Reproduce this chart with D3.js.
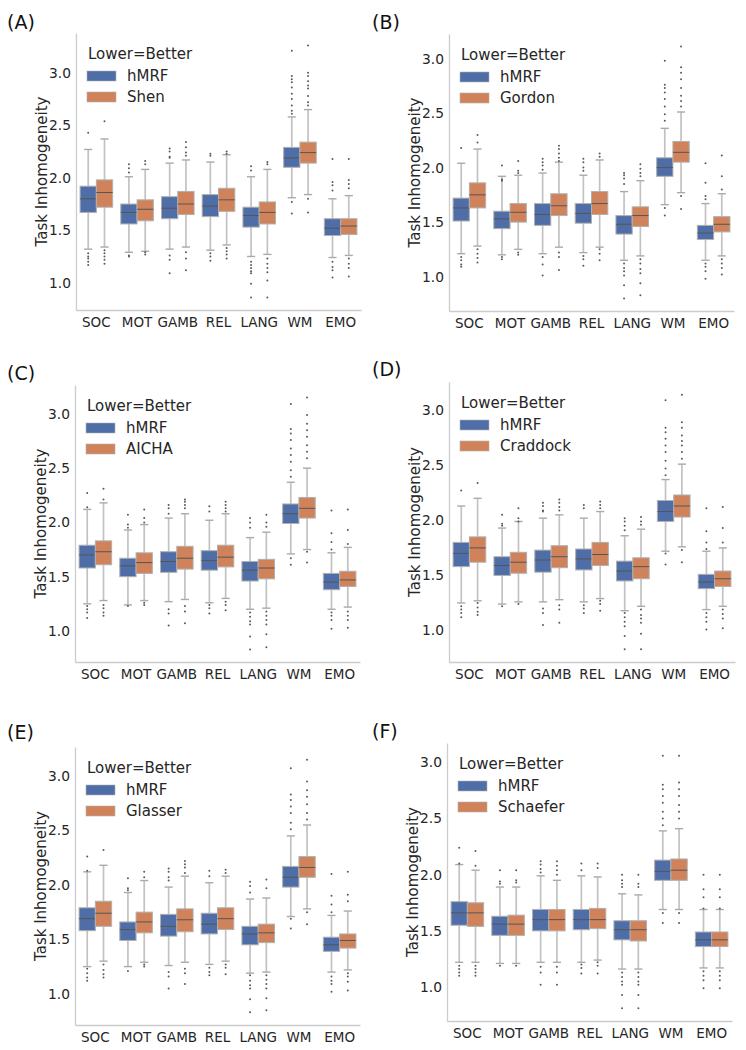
<!DOCTYPE html>
<html>
<head>
<meta charset="utf-8">
<script src="https://cdn.jsdelivr.net/npm/d3@7"></script>
<style>
  html, body { margin: 0; padding: 0; background: #fff; }
  svg { display: block; font-family: "DejaVu Sans", sans-serif; }
</style>
</head>
<body>
<svg id="chart" width="746" height="1050"></svg>
<script>
// ---------- data ----------
const categories = ["SOC", "MOT", "GAMB", "REL", "LANG", "WM", "EMO"];
const panelLabels = ["(A)", "(B)", "(C)", "(D)", "(E)", "(F)"];
const baseMethod = "hMRF";
const compareMethods = ["Shen", "Gordon", "AICHA", "Craddock", "Glasser", "Schaefer"];
const yTicks = [1.0, 1.5, 2.0, 2.5, 3.0];
const legendTitle = "Lower=Better";
const yTitle = "Task Inhomogeneity";
// each row: [whiskerLow, q1, median, q3, whiskerHigh, [outliers]]
const hmrfA = [
  [1.32, 1.67, 1.80, 1.92, 2.27, [2.43, 1.28, 1.25, 1.23, 1.20, 1.17]],
  [1.29, 1.56, 1.67, 1.75, 2.01, [2.13, 2.09, 2.05, 1.26, 1.25]],
  [1.32, 1.61, 1.71, 1.82, 2.14, [2.28, 2.25, 2.20, 2.19, 1.26, 1.22, 1.09]],
  [1.31, 1.63, 1.73, 1.84, 2.15, [2.23, 2.21, 1.28, 1.25, 1.21]],
  [1.25, 1.53, 1.64, 1.72, 2.01, [2.11, 2.07, 1.20, 1.17, 1.14, 1.11, 1.09, 0.99, 0.86]],
  [1.81, 2.10, 2.19, 2.29, 2.58, [3.21, 2.97, 2.94, 2.91, 2.86, 2.80, 2.75, 2.69, 2.64, 2.61, 1.77, 1.66]],
  [1.24, 1.45, 1.52, 1.61, 1.80, [2.18, 1.96, 1.93, 1.88, 1.20, 1.15, 1.12, 1.05]]
];
const shenA = [
  [1.34, 1.72, 1.86, 1.98, 2.37, [2.54, 1.31, 1.28, 1.25, 1.22, 1.18]],
  [1.30, 1.59, 1.70, 1.79, 2.08, [2.16, 2.13, 1.29, 1.27]],
  [1.34, 1.65, 1.75, 1.87, 2.17, [2.34, 2.29, 2.24, 2.21, 1.29, 1.23, 1.12]],
  [1.36, 1.68, 1.79, 1.90, 2.22, [2.25, 2.23, 1.33, 1.30, 1.27, 1.23]],
  [1.27, 1.56, 1.67, 1.77, 2.08, [2.15, 2.13, 1.23, 1.18, 1.14, 1.10, 1.02, 0.86]],
  [1.84, 2.14, 2.24, 2.34, 2.65, [3.26, 3.00, 2.97, 2.92, 2.88, 2.85, 2.78, 2.72, 2.69, 1.80, 1.67]],
  [1.26, 1.46, 1.54, 1.61, 1.83, [2.18, 1.98, 1.94, 1.90, 1.23, 1.18, 1.14, 1.06]]
];
const hmrfB = [
  [1.21, 1.51, 1.63, 1.72, 2.04, [2.18, 1.18, 1.15, 1.11, 1.09]],
  [1.20, 1.44, 1.53, 1.60, 1.92, [2.02, 1.89, 1.88, 1.18, 1.16]],
  [1.21, 1.47, 1.57, 1.67, 1.95, [2.08, 2.05, 2.02, 1.98, 1.18, 1.11, 1.01]],
  [1.22, 1.49, 1.58, 1.67, 1.93, [2.08, 2.05, 2.00, 1.97, 1.19, 1.16, 1.10]],
  [1.15, 1.39, 1.48, 1.56, 1.78, [1.95, 1.93, 1.90, 1.85, 1.12, 1.08, 1.05, 1.01, 0.92, 0.80]],
  [1.66, 1.92, 2.00, 2.09, 2.36, [2.98, 2.76, 2.73, 2.69, 2.63, 2.56, 2.49, 2.43, 1.63, 1.56]],
  [1.15, 1.34, 1.40, 1.47, 1.67, [2.04, 1.86, 1.74, 1.71, 1.12, 1.09, 1.05, 0.98]]
];
const gordonB = [
  [1.28, 1.63, 1.75, 1.86, 2.17, [2.30, 2.23, 1.25, 1.21, 1.17, 1.13]],
  [1.25, 1.50, 1.59, 1.67, 1.93, [2.06, 1.97, 1.95, 1.22, 1.20]],
  [1.27, 1.56, 1.65, 1.76, 2.05, [2.20, 2.17, 2.13, 2.09, 2.06, 1.22, 1.18, 1.06]],
  [1.27, 1.57, 1.67, 1.78, 2.07, [2.13, 2.10, 1.25, 1.21, 1.15]],
  [1.19, 1.46, 1.56, 1.64, 1.88, [2.03, 1.99, 1.95, 1.92, 1.16, 1.12, 1.07, 1.03, 0.94, 0.83]],
  [1.77, 2.05, 2.14, 2.24, 2.51, [3.11, 2.92, 2.87, 2.81, 2.73, 2.66, 2.61, 2.56, 1.74, 1.62]],
  [1.19, 1.41, 1.48, 1.55, 1.76, [2.11, 1.92, 1.80, 1.16, 1.12, 1.08, 1.02]]
];
const hmrfC = [
  [1.25, 1.58, 1.70, 1.79, 2.12, [2.27, 2.14, 1.23, 1.20, 1.17, 1.12]],
  [1.24, 1.50, 1.60, 1.67, 1.93, [2.07, 1.98, 1.95, 1.23]],
  [1.27, 1.54, 1.64, 1.73, 2.04, [2.16, 2.13, 2.08, 1.20, 1.16, 1.05]],
  [1.26, 1.56, 1.65, 1.74, 2.02, [2.15, 2.10, 1.24, 1.21, 1.16]],
  [1.20, 1.46, 1.56, 1.64, 1.86, [2.04, 2.00, 1.95, 1.17, 1.13, 1.09, 1.06, 0.95, 0.83]],
  [1.71, 1.99, 2.08, 2.17, 2.37, [3.09, 2.86, 2.82, 2.76, 2.68, 2.62, 2.56, 2.48, 2.42, 1.67, 1.61]],
  [1.20, 1.38, 1.45, 1.53, 1.72, [2.11, 1.90, 1.82, 1.75, 1.17, 1.14, 1.10, 1.02]]
];
const aichaC = [
  [1.28, 1.61, 1.73, 1.83, 2.18, [2.31, 2.21, 1.24, 1.21, 1.17, 1.14]],
  [1.28, 1.53, 1.63, 1.72, 1.98, [2.12, 2.04, 2.00, 1.26, 1.24]],
  [1.29, 1.57, 1.67, 1.78, 2.08, [2.21, 2.19, 2.16, 2.13, 1.23, 1.18, 1.07]],
  [1.30, 1.59, 1.68, 1.79, 2.08, [2.19, 2.16, 2.13, 2.10, 1.27, 1.24, 1.19]],
  [1.21, 1.48, 1.58, 1.66, 1.91, [2.07, 2.00, 1.96, 1.18, 1.14, 1.10, 1.06, 0.97, 0.85]],
  [1.75, 2.04, 2.13, 2.23, 2.50, [3.15, 2.99, 2.91, 2.85, 2.79, 2.71, 2.65, 2.59, 1.73, 1.63]],
  [1.22, 1.41, 1.47, 1.55, 1.77, [2.12, 1.93, 1.80, 1.18, 1.14, 1.10, 1.03]]
];
const hmrfD = [
  [1.25, 1.58, 1.70, 1.80, 2.13, [2.27, 1.22, 1.19, 1.16, 1.12]],
  [1.24, 1.50, 1.59, 1.67, 1.93, [2.05, 1.97, 1.95, 1.22]],
  [1.26, 1.53, 1.64, 1.73, 2.02, [2.16, 2.13, 2.09, 2.08, 1.20, 1.16, 1.05]],
  [1.26, 1.55, 1.65, 1.74, 2.02, [2.14, 2.11, 1.23, 1.20, 1.16]],
  [1.18, 1.45, 1.54, 1.63, 1.86, [2.02, 1.99, 1.95, 1.91, 1.16, 1.12, 1.08, 1.04, 0.95, 0.83]],
  [1.72, 1.99, 2.08, 2.18, 2.37, [3.09, 2.84, 2.80, 2.74, 2.68, 2.62, 2.54, 2.47, 2.41, 1.70, 1.60]],
  [1.19, 1.38, 1.44, 1.51, 1.72, [2.11, 1.90, 1.80, 1.74, 1.16, 1.12, 1.08, 1.01]]
];
const craddockD = [
  [1.27, 1.62, 1.75, 1.85, 2.20, [2.34, 1.25, 1.21, 1.17, 1.14]],
  [1.26, 1.52, 1.62, 1.71, 1.99, [2.11, 2.02, 1.99, 1.24]],
  [1.28, 1.57, 1.67, 1.77, 2.05, [2.19, 2.16, 2.12, 2.09, 1.23, 1.19, 1.07]],
  [1.29, 1.59, 1.69, 1.80, 2.08, [2.17, 2.14, 2.11, 1.27, 1.24, 1.18]],
  [1.22, 1.47, 1.58, 1.66, 1.92, [2.03, 1.99, 1.96, 1.19, 1.14, 1.11, 1.07, 0.97, 0.83]],
  [1.76, 2.03, 2.13, 2.23, 2.51, [3.14, 2.89, 2.84, 2.77, 2.72, 2.68, 2.62, 2.56, 1.73, 1.62]],
  [1.22, 1.40, 1.47, 1.54, 1.75, [2.12, 1.93, 1.80, 1.19, 1.15, 1.11, 1.02]]
];
const hmrfE = [
  [1.25, 1.58, 1.69, 1.79, 2.12, [2.26, 2.13, 1.23, 1.19, 1.15, 1.12]],
  [1.25, 1.49, 1.59, 1.66, 1.93, [2.06, 1.97, 1.95, 1.21]],
  [1.26, 1.53, 1.62, 1.73, 1.98, [2.15, 2.12, 2.07, 2.04, 1.20, 1.16, 1.05]],
  [1.27, 1.55, 1.64, 1.74, 2.02, [2.13, 2.08, 1.24, 1.20, 1.17]],
  [1.19, 1.45, 1.55, 1.62, 1.87, [2.03, 1.99, 1.93, 1.17, 1.12, 1.08, 1.05, 0.95, 0.83]],
  [1.71, 1.98, 2.07, 2.17, 2.45, [3.07, 2.83, 2.78, 2.72, 2.66, 2.57, 2.51, 1.69, 1.60]],
  [1.20, 1.39, 1.45, 1.52, 1.72, [2.10, 1.90, 1.82, 1.75, 1.16, 1.12, 1.09, 1.02]]
];
const glasserE = [
  [1.30, 1.62, 1.74, 1.85, 2.18, [2.32, 1.27, 1.22, 1.18, 1.15]],
  [1.29, 1.56, 1.66, 1.75, 2.04, [2.12, 2.07, 1.27, 1.25]],
  [1.29, 1.57, 1.68, 1.78, 2.08, [2.22, 2.19, 2.16, 2.11, 1.23, 1.19, 1.09]],
  [1.30, 1.59, 1.69, 1.79, 2.08, [2.14, 2.11, 1.27, 1.24, 1.18]],
  [1.20, 1.47, 1.56, 1.64, 1.88, [2.05, 1.97, 1.17, 1.13, 1.09, 1.05, 0.96, 0.85]],
  [1.78, 2.07, 2.16, 2.26, 2.55, [3.15, 2.95, 2.87, 2.81, 2.74, 2.66, 2.60, 1.75, 1.64]],
  [1.22, 1.42, 1.49, 1.55, 1.76, [2.12, 1.91, 1.85, 1.19, 1.16, 1.11, 1.03]]
];
const hmrfF = [
  [1.22, 1.55, 1.66, 1.76, 2.09, [2.24, 2.10, 1.19, 1.16, 1.13, 1.10]],
  [1.21, 1.46, 1.56, 1.63, 1.89, [2.04, 1.94, 1.92, 1.19]],
  [1.22, 1.50, 1.60, 1.69, 1.99, [2.12, 2.09, 2.05, 2.02, 1.18, 1.13, 1.02]],
  [1.22, 1.51, 1.60, 1.69, 1.99, [2.10, 2.04, 1.20, 1.17, 1.12]],
  [1.16, 1.42, 1.51, 1.59, 1.83, [2.00, 1.95, 1.92, 1.89, 1.13, 1.09, 1.05, 1.02, 0.93, 0.81]],
  [1.69, 1.95, 2.03, 2.13, 2.39, [3.06, 2.80, 2.76, 2.70, 2.64, 2.56, 2.50, 2.44, 1.66, 1.57]],
  [1.17, 1.36, 1.42, 1.49, 1.69, [2.00, 1.87, 1.80, 1.70, 1.14, 1.10, 1.06, 0.99]]
];
const schaeferF = [
  [1.22, 1.54, 1.66, 1.75, 2.04, [2.21, 2.08, 1.19, 1.16, 1.13, 1.10]],
  [1.21, 1.46, 1.56, 1.64, 1.89, [2.04, 1.95, 1.93, 1.19]],
  [1.22, 1.50, 1.60, 1.69, 1.95, [2.12, 2.08, 2.04, 2.00, 1.18, 1.13, 1.02]],
  [1.24, 1.52, 1.60, 1.70, 1.98, [2.10, 2.06, 1.22, 1.19, 1.12]],
  [1.16, 1.41, 1.51, 1.59, 1.82, [2.00, 1.92, 1.89, 1.13, 1.09, 1.05, 1.02, 0.93, 0.81]],
  [1.69, 1.95, 2.04, 2.14, 2.41, [3.06, 2.82, 2.76, 2.70, 2.62, 2.56, 2.50, 1.66, 1.57]],
  [1.17, 1.36, 1.42, 1.49, 1.69, [2.00, 1.87, 1.80, 1.70, 1.14, 1.10, 1.06, 0.99]]
];

const panelData = [
  [hmrfA, shenA], [hmrfB, gordonB], [hmrfC, aichaC],
  [hmrfD, craddockD], [hmrfE, glasserE], [hmrfF, schaeferF]
];

// ---------- layout & style ----------
const layout = [
  { x0: 76, x1: 361, y0: 33, y1: 310, lx: 7, ly: 29 },
  { x0: 449, x1: 734, y0: 34, y1: 311, lx: 372, ly: 29 },
  { x0: 75, x1: 360, y0: 385, y1: 662, lx: 7, ly: 380 },
  { x0: 449, x1: 735, y0: 382, y1: 662, lx: 372, ly: 376 },
  { x0: 75, x1: 360, y0: 747, y1: 1025, lx: 7, ly: 739 },
  { x0: 447, x1: 732, y0: 743, y1: 1021, lx: 372, ly: 738 }
];
const colors = ["#4f6ea8", "#d0835a"];
const whiskerColor = "#c2c2c2";
const edgeColor = "#b0b0b0";
const medianColor = "#555555";
const textColor = "#262626";
const spineColor = "#cccccc";

const svg = d3.select("#chart");

panelData.forEach((pair, p) => {
  const L = layout[p];
  const series = [baseMethod, compareMethods[p]];
  const g = svg.append("g");

  // y domain with matplotlib-like 5% margins from all data
  const allVals = [];
  pair.forEach(s => s.forEach(r => { allVals.push(r[0], r[4], ...r[5]); }));
  const mn = d3.min(allVals), mx = d3.max(allVals), pad = (mx - mn) * 0.05;
  const y = d3.scaleLinear().domain([mn - pad, mx + pad]).range([L.y1, L.y0]);
  const x = d3.scaleBand().domain(categories).range([L.x0, L.x1]).padding(0);
  const bw = x.bandwidth();
  const xs = d3.scaleBand().domain(series).range([0.1 * bw, 0.9 * bw]).padding(0);
  const boxW = xs.bandwidth();

  // axes
  const yAxis = g.append("g").attr("transform", `translate(${L.x0},0)`)
    .call(d3.axisLeft(y).tickValues(yTicks).tickFormat(d3.format(".1f")).tickSize(0).tickPadding(5));
  yAxis.select(".domain").attr("stroke", spineColor).attr("stroke-width", 1.3);
  yAxis.selectAll("text").attr("font-size", 13.8).attr("fill", textColor).attr("font-family", "DejaVu Sans");

  const xAxis = g.append("g").attr("transform", `translate(0,${L.y1})`)
    .call(d3.axisBottom(x).tickSize(0).tickPadding(7));
  xAxis.select(".domain").attr("stroke", spineColor).attr("stroke-width", 1.3);
  xAxis.selectAll("text").attr("font-size", 13.5).attr("fill", textColor).attr("font-family", "DejaVu Sans");

  // y title
  g.append("text")
    .attr("transform", `translate(${L.x0 - 34},${(L.y0 + L.y1) / 2}) rotate(-90)`)
    .attr("text-anchor", "middle").attr("dominant-baseline", "central")
    .attr("font-size", 15).attr("fill", textColor)
    .text(yTitle);

  // panel label
  g.append("text").attr("x", L.lx).attr("y", L.ly)
    .attr("font-size", 19).attr("fill", "#111").text(panelLabels[p]);

  // boxes
  pair.forEach((s, si) => {
    s.forEach((r, ci) => {
      const [lo, q1, med, q3, hi, outs] = r;
      const bx = x(categories[ci]) + xs(series[si]);
      const cx = bx + boxW / 2;
      const bg = g.append("g");
      // whiskers
      bg.append("line").attr("x1", cx).attr("x2", cx).attr("y1", y(lo)).attr("y2", y(q1))
        .attr("stroke", whiskerColor).attr("stroke-width", 1.7);
      bg.append("line").attr("x1", cx).attr("x2", cx).attr("y1", y(q3)).attr("y2", y(hi))
        .attr("stroke", whiskerColor).attr("stroke-width", 1.7);
      // caps
      [lo, hi].forEach(v => {
        bg.append("line").attr("x1", cx - boxW / 4).attr("x2", cx + boxW / 4)
          .attr("y1", y(v)).attr("y2", y(v))
          .attr("stroke", "#aaaaaa").attr("stroke-width", 1.4);
      });
      // box
      bg.append("rect").attr("x", bx).attr("y", y(q3))
        .attr("width", boxW).attr("height", y(q1) - y(q3))
        .attr("fill", colors[si]).attr("stroke", edgeColor).attr("stroke-width", 1);
      // median
      bg.append("line").attr("x1", bx).attr("x2", bx + boxW)
        .attr("y1", y(med)).attr("y2", y(med))
        .attr("stroke", medianColor).attr("stroke-width", 1);
      // outliers
      bg.selectAll("circle").data(outs).join("circle")
        .attr("cx", cx).attr("cy", d => y(d)).attr("r", 1)
        .attr("fill", "#5a5a5a");
    });
  });

  // legend
  const lg = g.append("g").attr("transform", `translate(${L.x0},${L.y0})`);
  lg.append("text").attr("x", 12).attr("y", 21).attr("dominant-baseline", "central")
    .attr("font-size", 15).attr("fill", textColor).text(legendTitle);
  series.forEach((name, i) => {
    const cy = 43 + i * 21;
    lg.append("rect").attr("x", 11).attr("y", cy - 5).attr("width", 29).attr("height", 10)
      .attr("fill", colors[i]).attr("stroke", edgeColor).attr("stroke-width", 0.6);
    lg.append("text").attr("x", 51).attr("y", cy).attr("dominant-baseline", "central")
      .attr("font-size", 15).attr("fill", textColor).text(name);
  });
});
</script>
</body>
</html>
